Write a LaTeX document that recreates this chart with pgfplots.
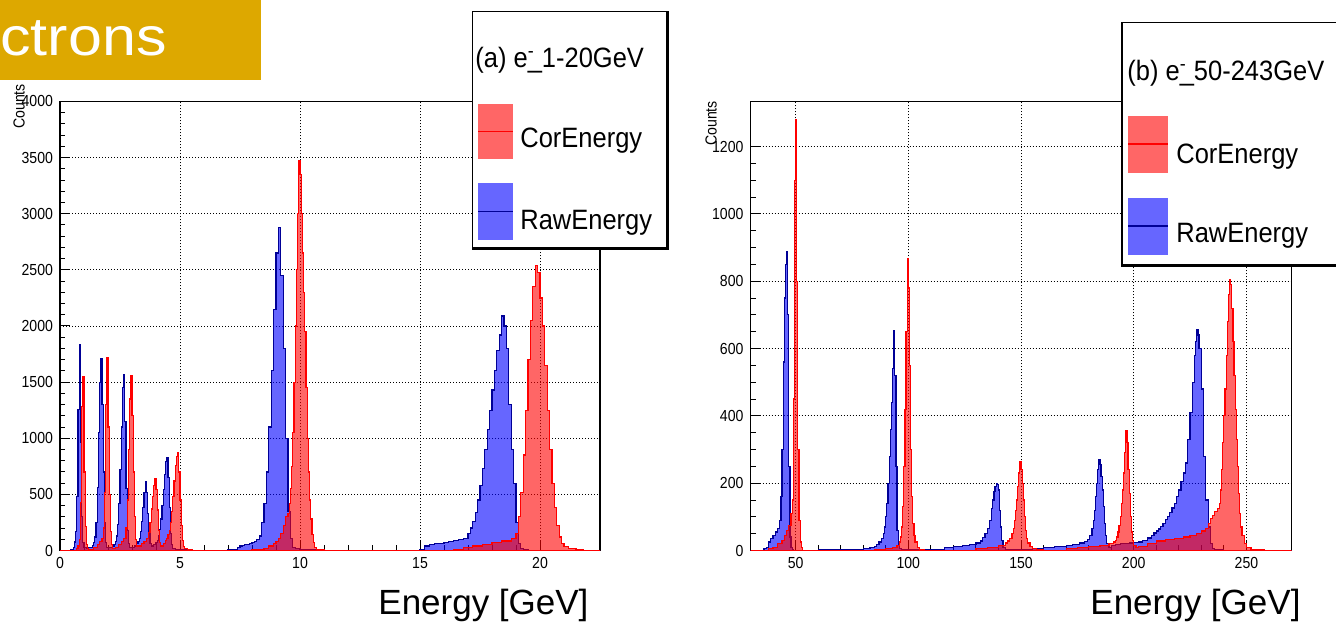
\documentclass[border=0pt]{standalone}
\usepackage{fontspec}
\setmainfont{Liberation Sans}
\newfontfamily\rootfont[FakeStretch=0.88]{Liberation Sans}
\newfontfamily\legfont[FakeStretch=0.91]{Liberation Sans}
\newfontfamily\slidefont[FakeStretch=1.13]{Liberation Sans}
\usepackage{pgfplots}
\pgfplotsset{compat=1.18}
\definecolor{slideorange}{RGB}{221,168,0}
\definecolor{rawblue}{RGB}{0,0,150}
\pgfplotsset{rootaxis/.style={
  scale only axis,
  anchor=south west,
  axis line style={line width=0.7pt},
  tick align=inside,
  xtick pos=left, ytick pos=left,
  major tick length=5pt, minor tick length=2.5pt,
  every tick/.style={black, line width=0.5pt},
  grid=major,
  major grid style={black, line width=0.45pt, dash pattern=on 0.5pt off 1pt},
  tick label style={font=\rootfont\fontsize{8}{9}\selectfont},
  /pgf/number format/assume math mode=true,
  /pgf/number format/1000 sep={},
  scaled ticks=false,
  ymin=0,
},
rawhist/.style={const plot, draw=rawblue, fill=blue, fill opacity=0.6, line width=0.6pt},
corhist/.style={const plot, draw=red, fill=red, fill opacity=0.6, line width=0.6pt},
}
\begin{document}
\begin{tikzpicture}[x=0.5pt,y=0.5pt]
\useasboundingbox (0,0) rectangle (1336,625);
% ---------------- left panel ----------------
\begin{axis}[rootaxis, at={(30pt,37.25pt)}, width=270pt, height=224.5pt,
  xmin=0, xmax=22.5, ymax=4000,
  xtick={0,5,10,15,20}, ytick={0,500,...,4000},
  minor x tick num=4, minor y tick num=4]
\addplot[rawhist] coordinates {
(0,0)(0.45,5)(0.50,10)(0.55,30)(0.60,75)(0.65,172)(0.70,483)(0.75,1253)(0.80,1830)(0.85,960)(0.90,305)(0.95,70)(1.00,30)(1.10,20)(1.20,25)(1.30,30)(1.35,45)(1.40,70)(1.45,120)(1.50,250)(1.55,560)(1.60,1050)(1.65,1500)(1.70,1707)(1.75,1300)(1.80,700)(1.85,250)(1.90,70)(1.95,30)(2.00,25)(2.10,25)(2.20,35)(2.25,50)(2.30,80)(2.35,130)(2.40,230)(2.45,420)(2.50,720)(2.55,1100)(2.60,1450)(2.65,1564)(2.70,1150)(2.75,550)(2.80,180)(2.85,60)(2.90,30)(3.00,30)(3.10,40)(3.20,60)(3.25,80)(3.30,110)(3.35,170)(3.40,260)(3.45,380)(3.50,520)(3.55,616)(3.60,520)(3.65,330)(3.70,150)(3.75,60)(3.80,40)(3.90,50)(4.00,70)(4.05,90)(4.10,130)(4.15,190)(4.20,280)(4.25,400)(4.30,540)(4.35,680)(4.40,790)(4.45,830)(4.50,650)(4.55,380)(4.60,150)(4.65,50)(4.70,20)(4.80,10)(5.00,5)(5.50,3)(6.00,2)(7.00,5)(7.40,30)(7.50,40)(7.60,45)(7.70,50)(7.80,55)(7.90,60)(8.00,70)(8.10,80)(8.20,100)(8.30,130)(8.40,250)(8.50,420)(8.60,700)(8.70,1100)(8.80,1600)(8.90,2150)(9.00,2650)(9.10,2880)(9.20,2450)(9.30,1800)(9.40,1000)(9.50,350)(9.60,110)(9.70,30)(9.80,15)(10.00,8)(10.50,5)(11.00,3)(12.00,2)(14.00,3)(15.00,8)(15.20,40)(15.40,55)(15.60,60)(15.80,65)(16.00,72)(16.20,80)(16.40,88)(16.60,95)(16.80,110)(17.00,150)(17.10,200)(17.20,260)(17.30,340)(17.40,450)(17.50,580)(17.60,730)(17.70,900)(17.80,1080)(17.90,1250)(18.00,1430)(18.10,1600)(18.20,1780)(18.30,1920)(18.40,2089)(18.50,2000)(18.60,1800)(18.70,1300)(18.80,900)(18.90,600)(19.00,250)(19.10,60)(19.20,15)(19.30,5)(19.50,2)(20.00,0)(22.50,0)
} \closedcycle;
\addplot[corhist] coordinates {
(0,0)(0.70,15)(0.75,40)(0.80,100)(0.85,430)(0.90,1280)(0.95,1550)(1.00,700)(1.05,215)(1.10,55)(1.15,15)(1.20,10)(1.40,30)(1.55,50)(1.65,80)(1.75,110)(1.80,200)(1.85,520)(1.90,1300)(1.95,1715)(2.00,1100)(2.05,500)(2.10,170)(2.15,50)(2.20,20)(2.30,30)(2.45,50)(2.55,80)(2.65,110)(2.75,200)(2.80,450)(2.85,900)(2.90,1350)(2.95,1555)(3.00,1200)(3.05,700)(3.10,300)(3.15,100)(3.20,40)(3.30,40)(3.40,60)(3.50,80)(3.60,110)(3.70,160)(3.75,250)(3.80,370)(3.85,480)(3.90,580)(3.95,640)(4.00,540)(4.05,360)(4.10,180)(4.15,70)(4.20,40)(4.30,60)(4.40,90)(4.45,110)(4.50,140)(4.55,180)(4.60,250)(4.65,350)(4.70,480)(4.75,620)(4.80,760)(4.85,840)(4.90,874)(4.95,700)(5.00,450)(5.05,220)(5.10,90)(5.15,35)(5.20,15)(5.30,5)(5.50,2)(6.00,0)(8.00,10)(8.50,20)(8.70,40)(8.90,60)(9.00,80)(9.10,110)(9.20,150)(9.30,220)(9.40,300)(9.50,330)(9.55,420)(9.60,550)(9.65,750)(9.70,1050)(9.75,1500)(9.80,2000)(9.85,2500)(9.90,3000)(9.95,3476)(10.00,3350)(10.05,3000)(10.10,2650)(10.15,2300)(10.20,1950)(10.25,1450)(10.30,1000)(10.35,700)(10.40,450)(10.45,280)(10.50,140)(10.55,70)(10.60,30)(10.70,8)(11.00,3)(11.50,0)(16.40,10)(16.80,25)(17.20,40)(17.60,55)(18.00,70)(18.40,85)(18.80,110)(19.00,150)(19.10,300)(19.20,520)(19.30,850)(19.40,1250)(19.50,1700)(19.60,2050)(19.70,2350)(19.80,2542)(19.90,2480)(20.00,2250)(20.10,2000)(20.20,1650)(20.30,1250)(20.40,900)(20.50,600)(20.60,380)(20.70,220)(20.80,120)(20.90,60)(21.00,35)(21.20,20)(21.50,8)(21.80,0)(22.50,0)
} \closedcycle;
\end{axis}
% ---------------- right panel ----------------
\begin{axis}[rootaxis, at={(375.25pt,37.25pt)}, width=270.5pt, height=224.5pt,
  xmin=30, xmax=270, ymax=1334,
  xtick={50,100,150,200,250}, ytick={0,200,...,1200},
  minor x tick num=4, minor y tick num=3]
\addplot[rawhist] coordinates {
(30,0)(36,5)(37,10)(38,25)(39,35)(40,45)(41,55)(42,65)(43,90)(43.5,160)(44,300)(44.5,560)(45,750)(45.5,850)(46,889)(46.5,700)(47,250)(47.5,40)(48,10)(48.5,3)(49,0)(60,2)(75,3)(80,5)(83,8)(85,12)(86,18)(87,25)(88,35)(89,50)(89.5,70)(90,100)(90.5,140)(91,200)(91.5,280)(92,360)(92.5,440)(93,540)(93.5,653)(94,520)(94.5,250)(95,60)(95.5,15)(96,5)(97,3)(105,2)(112,4)(116,8)(120,12)(124,15)(127,18)(130,22)(132,28)(133,38)(134,50)(135,65)(136,90)(137,125)(137.5,150)(138,175)(138.5,190)(139,199)(139.5,195)(140,180)(140.5,120)(141,70)(141.5,30)(142,10)(143,3)(150,3)(155,5)(160,10)(165,13)(170,16)(173,19)(176,22)(178,26)(179.5,32)(180.5,45)(181.5,65)(182,90)(182.5,120)(183,160)(183.5,200)(184,240)(184.5,270)(185,255)(185.5,220)(186,180)(186.5,130)(187,80)(187.5,45)(188,20)(189,10)(190,15)(192,18)(194,20)(196,20)(198,22)(200,24)(202,25)(204,30)(206,37)(208,45)(209,52)(210,58)(211,64)(212,72)(213,80)(214,92)(215,102)(216,114)(217,126)(218,140)(219,160)(220,180)(221,205)(222,230)(223,260)(224,330)(225,410)(226,500)(227,580)(227.5,620)(228,657)(228.5,640)(229,600)(230,480)(231,280)(232,150)(233,70)(234,20)(235,5)(236,2)(240,0)(270,0)
} \closedcycle;
\addplot[corhist] coordinates {
(30,0)(38,5)(40,10)(42,20)(44,30)(45,45)(46,60)(47,75)(48,110)(48.5,150)(49,450)(49.5,1100)(50,1281)(50.5,800)(51,300)(51.5,90)(52,25)(52.5,8)(53,0)(85,3)(90,6)(93,10)(95,15)(96,25)(96.5,40)(97,70)(97.5,130)(98,250)(98.5,420)(99,650)(99.5,866)(100,780)(100.5,550)(101,300)(101.5,160)(102,80)(102.5,45)(103,25)(104,10)(105,3)(107,0)(130,5)(135,10)(140,15)(143,22)(144,28)(145,35)(146,50)(146.5,65)(147,90)(147.5,120)(148,150)(148.5,190)(149,230)(149.5,263)(150,240)(150.5,200)(151,150)(151.5,100)(152,60)(152.5,35)(153,22)(154,12)(155,6)(157,2)(160,0)(170,5)(175,10)(180,13)(185,16)(189,20)(191,25)(192,30)(192.5,40)(193,55)(193.5,75)(194,100)(194.5,140)(195,180)(195.5,230)(196,290)(196.5,357)(197,320)(197.5,240)(198,170)(198.5,100)(199,55)(199.5,30)(200,15)(201,8)(202,12)(206,20)(210,28)(214,32)(218,36)(222,40)(225,45)(228,50)(230,58)(232,66)(233,80)(234,95)(235,105)(236,115)(237,125)(238,140)(238.5,180)(239,240)(239.5,320)(240,400)(240.5,480)(241,580)(241.5,680)(242,760)(242.5,805)(243,790)(243.5,720)(244,620)(244.5,520)(245,420)(245.5,330)(246,250)(246.5,170)(247,110)(247.5,70)(248,45)(249,20)(250,8)(252,4)(255,2)(258,0)(270,0)
} \closedcycle;
\end{axis}
% ---------------- axis titles ----------------
\node[rotate=90, anchor=center, inner sep=0pt, font=\rootfont\fontsize{8}{9}\selectfont] at (19,518.5) {Counts};
\node[rotate=90, anchor=center, inner sep=0pt, font=\rootfont\fontsize{8}{9}\selectfont] at (711,501.5) {Counts};
\node[anchor=base west, inner sep=0pt, font=\fontsize{17.5}{20}\selectfont] at (378,10) {Energy [GeV]};
\node[anchor=base west, inner sep=0pt, font=\fontsize{17.5}{20}\selectfont] at (1090,10) {Energy [GeV]};
% ---------------- slide title fragment ----------------
\fill[slideorange] (0,625) rectangle (261,545);
\node[anchor=base west, inner sep=0pt, text=white, font=\slidefont\fontsize{27}{30}\selectfont] at (0,569) {ctrons};
% ---------------- legend (a) ----------------
\fill[black] (471.5,614) rectangle (669,375);
\fill[white] (473,612.5) rectangle (666,378);
\node[anchor=base west, inner sep=0pt, font=\legfont\fontsize{14}{16}\selectfont] at (475,557) {(a) e\rlap{\textsuperscript{-}}\_1-20GeV};
\fill[red, opacity=0.6] (478,521) rectangle (513,466);
\draw[red, line width=0.8pt] (478,493.5) -- (513,493.5);
\node[anchor=base west, inner sep=0pt, font=\legfont\fontsize{14}{16}\selectfont] at (520,477) {CorEnergy};
\fill[blue, opacity=0.6] (478,442) rectangle (513,385);
\draw[rawblue, line width=0.8pt] (478,413.5) -- (513,413.5);
\node[anchor=base west, inner sep=0pt, font=\legfont\fontsize{14}{16}\selectfont] at (520,395) {RawEnergy};
% ---------------- legend (b) ----------------
\fill[black] (1121,603) rectangle (1340,357.5);
\fill[white] (1122.5,601.5) rectangle (1340,360.5);
\node[anchor=base west, inner sep=0pt, font=\legfont\fontsize{14}{16}\selectfont] at (1127,544.3) {(b) e\rlap{\textsuperscript{-}}\_50-243GeV};
\fill[red, opacity=0.6] (1128,509) rectangle (1168,452);
\draw[red, line width=0.8pt] (1128,480.7) -- (1168,480.7);
\node[anchor=base west, inner sep=0pt, font=\legfont\fontsize{14}{16}\selectfont] at (1176,461) {CorEnergy};
\fill[blue, opacity=0.6] (1128,427) rectangle (1168,370);
\draw[rawblue, line width=0.8pt] (1128,399) -- (1168,399);
\node[anchor=base west, inner sep=0pt, font=\legfont\fontsize{14}{16}\selectfont] at (1176,382) {RawEnergy};
\end{tikzpicture}
\end{document}
